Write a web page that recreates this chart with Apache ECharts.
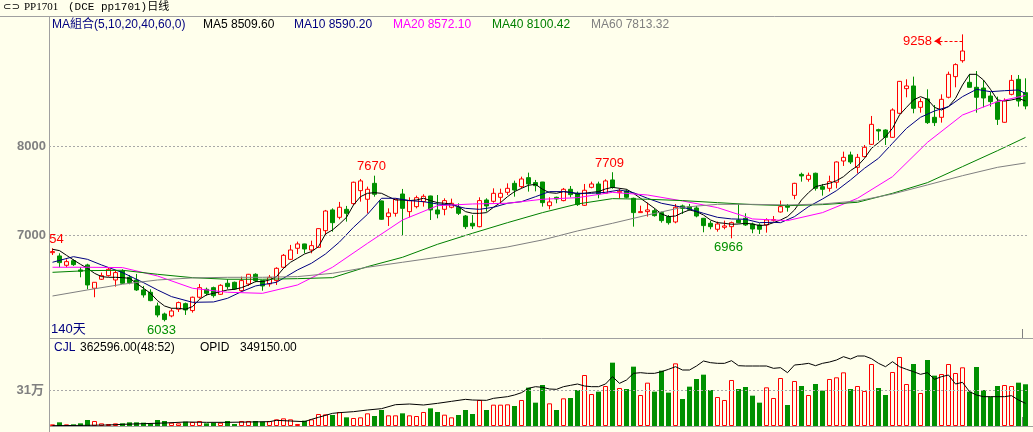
<!DOCTYPE html>
<html>
<head>
<meta charset="utf-8">
<title>PP1701 日线</title>
<script src="https://cdn.jsdelivr.net/npm/echarts@6/dist/echarts.min.js"></script>
<style>
    html, body { margin: 0; padding: 0; background: #FFFFEC; }
    #main { width: 1033px; height: 432px; }
</style>
</head>
<body>
<div id="main"></div>
<script>
// daily bars, oldest first (140 days)
var opens = [
    6805, 6768, 6663, 6715, 6611, 6667, 6405, 6506, 6547, 6498,
    6599, 6528, 6498, 6386, 6360, 6206, 6116, 6094, 6169, 6232,
    6154, 6304, 6393, 6412, 6337, 6461, 6472, 6378, 6453, 6562,
    6491, 6453, 6491, 6641, 6730, 6854, 6903, 6835, 6865, 7052,
    7285, 7202, 7292, 7356, 7502, 7405, 7584, 7386, 7210, 7247,
    7464, 7266, 7322, 7378, 7442, 7285, 7292, 7315, 7315, 7217,
    7135, 7097, 7397, 7382, 7427, 7483, 7584, 7547, 7648, 7592,
    7599, 7333, 7427, 7390, 7517, 7472, 7337, 7539, 7577, 7472,
    7622, 7479, 7498, 7416, 7255, 7266, 7277, 7255, 7210, 7150,
    7330, 7322, 7307, 7191, 7135, 7068, 7090, 7097, 7172, 7191,
    7127, 7116, 7116, 7169, 7262, 7333, 7449, 7685, 7629, 7697,
    7547, 7528, 7596, 7835, 7903, 7764, 7884, 8022, 8187, 8183,
    8101, 8371, 8648, 8678, 8438, 8532, 8326, 8326, 8551, 8783,
    8962, 8719, 8663, 8655, 8565, 8498, 8270, 8584, 8753, 8603
];
var closes = [
    6817, 6693, 6704, 6670, 6596, 6442, 6472, 6547, 6618, 6581,
    6461, 6468, 6386, 6330, 6266, 6105, 6053, 6150, 6244, 6161,
    6304, 6412, 6348, 6322, 6438, 6423, 6397, 6491, 6562, 6491,
    6431, 6528, 6629, 6775, 6835, 6903, 6846, 6884, 7075, 7273,
    7142, 7315, 7247, 7596, 7611, 7517, 7461, 7180, 7251, 7405,
    7303, 7390, 7423, 7438, 7285, 7240, 7390, 7360, 7247, 7097,
    7105, 7390, 7330, 7472, 7472, 7528, 7509, 7633, 7577, 7558,
    7367, 7375, 7408, 7517, 7457, 7345, 7506, 7577, 7464, 7611,
    7539, 7494, 7427, 7255, 7266, 7285, 7221, 7165, 7142, 7315,
    7303, 7292, 7217, 7109, 7097, 7127, 7105, 7142, 7142, 7116,
    7071, 7068, 7172, 7176, 7322, 7315, 7584, 7667, 7674, 7528,
    7517, 7603, 7824, 7876, 7824, 7876, 7989, 8247, 8172, 8101,
    8408, 8730, 8678, 8427, 8502, 8266, 8266, 8528, 8809, 8918,
    9071, 8663, 8551, 8543, 8502, 8303, 8513, 8741, 8509, 8453
];
var lows = [
    6779, 6641, 6641, 6656, 6528, 6393, 6304, 6498, 6536, 6423,
    6453, 6450, 6375, 6300, 6259, 6079, 6033, 6079, 6139, 6105,
    6131, 6289, 6322, 6300, 6330, 6393, 6386, 6367, 6431, 6472,
    6378, 6423, 6442, 6629, 6723, 6790, 6798, 6798, 6860, 7004,
    7041, 7180, 7154, 7341, 7378, 7247, 7434, 7175, 7105, 7210,
    7000, 7202, 7303, 7322, 7172, 7191, 7225, 7303, 7228, 7071,
    7071, 7090, 7266, 7367, 7360, 7453, 7434, 7528, 7491, 7494,
    7322, 7292, 7360, 7382, 7427, 7330, 7330, 7528, 7416, 7468,
    7524, 7416, 7416, 7097, 7252, 7210, 7210, 7142, 7120, 7135,
    7240, 7277, 7202, 7034, 7068, 7041, 7068, 6966, 7135, 7105,
    7023, 7015, 7030, 7154, 7255, 7266, 7405, 7603, 7603, 7502,
    7446, 7491, 7528, 7779, 7801, 7697, 7876, 8015, 8064, 8015,
    8095, 8363, 8551, 8371, 8378, 8251, 8228, 8266, 8539, 8663,
    8940, 8660, 8378, 8438, 8446, 8240, 8266, 8573, 8446, 8416
];
var highs = [
    6854, 6798, 6730, 6730, 6641, 6680, 6475, 6581, 6641, 6603,
    6618, 6554, 6566, 6431, 6393, 6244, 6131, 6180, 6255, 6244,
    6311, 6453, 6412, 6423, 6450, 6506, 6480, 6536, 6566, 6573,
    6498, 6554, 6641, 6790, 6892, 6929, 6905, 6940, 7078, 7285,
    7303, 7375, 7330, 7603, 7633, 7547, 7670, 7390, 7303, 7412,
    7521, 7427, 7446, 7461, 7445, 7453, 7416, 7412, 7360, 7228,
    7228, 7427, 7416, 7528, 7524, 7584, 7614, 7659, 7704, 7622,
    7600, 7427, 7434, 7532, 7554, 7491, 7577, 7603, 7603, 7629,
    7709, 7528, 7517, 7423, 7333, 7367, 7303, 7266, 7228, 7352,
    7345, 7352, 7330, 7195, 7161, 7154, 7165, 7154, 7352, 7247,
    7142, 7135, 7191, 7217, 7390, 7352, 7590, 7704, 7704, 7704,
    7577, 7670, 7831, 7940, 7940, 7914, 8015, 8341, 8198, 8191,
    8427, 8734, 8753, 8783, 8539, 8640, 8464, 8584, 8839, 8933,
    9258, 8813, 8846, 8745, 8610, 8558, 8539, 8801, 8801, 8764
];
var volumes = [
    14500, 31900, 14500, 14500, 23200, 52100, 43500, 23200, 17400, 23200,
    23200, 31900, 31900, 29000, 23200, 52100, 43500, 29000, 23200, 37700,
    34800, 43500, 23200, 29000, 29000, 43500, 17400, 43500, 43500, 43500,
    37700, 43500, 57900, 66600, 57900, 17400, 46400, 57900, 104300, 101400,
    95600, 121700, 75300, 69500, 75300, 110100, 86900, 139100, 92700, 92700,
    110100, 92700, 86900, 121700, 153500, 121700, 98500, 75300, 95600, 139100,
    104300, 226000, 139100, 185400, 185400, 188300, 173800, 226000, 333200, 202800,
    356300, 197000, 139100, 240500, 243400, 312900, 443200, 278100, 298400, 347600,
    550400, 330300, 321600, 515700, 269400, 376600, 298400, 480900, 289700, 544600,
    234700, 341900, 408500, 446100, 312900, 252000, 226000, 399800, 321600, 339000,
    263600, 202800, 336100, 243400, 417200, 182500, 391100, 347600, 269400, 365000,
    307100, 408500, 423000, 466400, 321600, 347600, 304200, 538800, 330300, 269400,
    469300, 599700, 365000, 538800, 286800, 573600, 437500, 451900, 538800, 460600,
    509900, 298400, 512800, 312900, 254900, 347600, 356300, 347600, 376600, 362596
];

// moving averages: ma5 per day, the rest as [day, value]
var ma5 = [
    6843, 6828, 6775, 6723, 6674, 6629, 6573, 6536, 6528, 6528,
    6524, 6517, 6461, 6405, 6348, 6266, 6206, 6180, 6180, 6169,
    6199, 6281, 6330, 6348, 6367, 6386, 6393, 6412, 6442, 6480,
    6480, 6498, 6536, 6629, 6697, 6742, 6790, 6817, 6873, 7015,
    7060, 7127, 7202, 7341, 7434, 7472, 7479, 7472, 7434, 7397,
    7397, 7390, 7397, 7416, 7390, 7367, 7360, 7352, 7322, 7266,
    7247, 7247, 7255, 7315, 7367, 7434, 7491, 7528, 7562, 7573,
    7517, 7479, 7472, 7491, 7483, 7464, 7472, 7483, 7491, 7521,
    7539, 7528, 7517, 7472, 7416, 7360, 7303, 7240, 7210, 7217,
    7255, 7285, 7266, 7228, 7172, 7142, 7135, 7124, 7127, 7135,
    7127, 7109, 7116, 7142, 7172, 7210, 7285, 7397, 7479, 7547,
    7566, 7584, 7614, 7659, 7727, 7779, 7865, 7978, 8041, 8109,
    8202, 8352, 8438, 8521, 8558, 8528, 8438, 8408, 8446, 8539,
    8689, 8809, 8809, 8745, 8640, 8521, 8509, 8521, 8539, 8509
];
var ma10 = [
    [0, 6697], [3, 6760], [5, 6730], [7, 6667], [10, 6581], [13, 6468], [15, 6386], [17, 6311],
    [20, 6247], [23, 6251], [25, 6292], [27, 6367], [29, 6431], [32, 6472], [35, 6611], [37, 6686],
    [39, 6790], [41, 6925], [43, 7090], [45, 7236], [47, 7416], [49, 7416], [51, 7390], [53, 7378],
    [55, 7352], [57, 7341], [59, 7303], [61, 7292], [63, 7315], [65, 7360], [67, 7378], [69, 7434],
    [71, 7491], [73, 7491], [75, 7472], [77, 7472], [79, 7483], [81, 7509], [83, 7479], [85, 7416],
    [87, 7360], [89, 7330], [91, 7296], [93, 7247], [95, 7202], [97, 7184], [99, 7180], [101, 7142],
    [103, 7146], [104, 7142], [106, 7210], [108, 7322], [110, 7408], [112, 7502], [114, 7622], [116, 7753],
    [118, 7865], [120, 8034], [122, 8202], [124, 8326], [126, 8397], [128, 8446], [130, 8558], [132, 8640],
    [134, 8614], [136, 8625], [138, 8633], [139, 8592]
];
var ma20 = [
    [0, 6641], [5, 6641], [10, 6637], [15, 6543], [20, 6405], [25, 6360], [30, 6348], [35, 6442],
    [40, 6641], [45, 6910], [50, 7172], [55, 7333], [60, 7352], [65, 7360], [70, 7405], [75, 7423],
    [80, 7483], [85, 7453], [90, 7386], [95, 7311], [100, 7184], [105, 7165], [110, 7255], [115, 7416],
    [120, 7659], [125, 8045], [130, 8352], [135, 8502], [139, 8572]
];
var ma40 = [
    [0, 6584], [5, 6603], [10, 6607], [15, 6562], [20, 6524], [25, 6506], [30, 6506], [35, 6513],
    [40, 6524], [45, 6648], [50, 6753], [55, 6899], [60, 7023], [65, 7142], [70, 7255], [75, 7352],
    [80, 7412], [85, 7405], [90, 7390], [95, 7367], [100, 7345], [105, 7333], [110, 7345], [115, 7371],
    [120, 7472], [125, 7592], [130, 7772], [135, 7951], [139, 8100]
];
var ma60 = [
    [0, 6318], [5, 6386], [10, 6450], [15, 6498], [20, 6521], [25, 6528], [30, 6528], [35, 6536],
    [40, 6573], [45, 6641], [50, 6697], [55, 6753], [60, 6809], [65, 6869], [70, 6948], [75, 7049],
    [80, 7135], [85, 7228], [90, 7315], [95, 7348], [100, 7348], [105, 7341], [110, 7352], [115, 7386],
    [120, 7464], [125, 7566], [130, 7670], [135, 7764], [139, 7813]
];
// open interest (OPID), [day, value]
var openInterest = [
    [0, 5100], [5, 10300], [8, 15400], [10, 25700], [13, 36000], [16, 46200], [19, 61600], [22, 56500],
    [25, 56500], [28, 61600], [31, 66800], [32, 87300], [34, 77000], [36, 66800], [37, 102700], [38, 133500],
    [40, 195100], [41, 205400], [43, 220800], [45, 246500], [47, 267000], [49, 328600], [51, 338900], [53, 323500],
    [55, 349200], [57, 380000], [59, 410800], [60, 400500], [62, 395400], [63, 426200], [65, 451900], [66, 477600],
    [67, 513500], [68, 580300], [69, 605900], [70, 595700], [71, 570000], [72, 564900], [73, 605900], [74, 626500],
    [75, 647000], [76, 616200], [77, 605900], [78, 605900], [79, 647000], [80, 760000], [81, 657300], [82, 708600],
    [83, 811300], [84, 821600], [85, 811300], [86, 811300], [87, 837000], [88, 873000], [89, 914000], [90, 862700],
    [91, 862700], [92, 924300], [93, 1001300], [94, 975700], [95, 965400], [96, 965400], [97, 1006500], [98, 929400],
    [99, 924300], [100, 924300], [101, 924300], [102, 924300], [103, 888400], [104, 898600], [105, 821600], [106, 939700],
    [107, 950000], [108, 965400], [109, 929400], [110, 965400], [111, 985900], [112, 1016700], [113, 1068100], [114, 1032100],
    [115, 1078400], [116, 1078400], [117, 1037300], [118, 965400], [119, 914000], [120, 991100], [121, 914000], [122, 873000],
    [123, 837000], [124, 795900], [125, 821600], [126, 718900], [127, 760000], [128, 785700], [129, 647000], [130, 672700],
    [131, 528900], [132, 477600], [133, 451900], [134, 451900], [135, 451900], [136, 451900], [137, 467300], [138, 400500],
    [139, 349150]
];
var priceTicks = [7000, 8000];
var volumeTicks = [310000];

var BG = '#FFFFEC';
var RED = '#FF0000';
var GREEN = '#009000';
var FONT = "'Liberation Sans', 'Noto Sans CJK SC', sans-serif";

var days = opens.map(function (o, i) { return i + 1; });
var candles = opens.map(function (o, i) {
    return [o, closes[i], lows[i], highs[i]];
});
var volumeBars = volumes.map(function (v, i) {
    var up = closes[i] >= opens[i];
    return {
        value: v,
        itemStyle: up ? { color: BG, borderColor: RED, borderWidth: 1 }
                      : { color: GREEN, borderColor: GREEN, borderWidth: 0 }
    };
});

function dashed(value) {
    return { yAxis: value, lineStyle: { color: '#A8A8A8', type: [2, 2], width: 1 } };
}

function tag(day, price, text, color, pos, dx) {
    return {
        coord: [day, price],
        value: price,
        label: {
            show: true, formatter: text, position: pos, distance: 2,
            offset: [dx, 0], color: color, fontSize: 13, fontFamily: FONT
        }
    };
}

function maLine(name, data, color) {
    return {
        name: name, type: 'line', data: data,
        xAxisIndex: 0, yAxisIndex: 0,
        symbol: 'none', connectNulls: true, z: 3,
        lineStyle: { color: color, width: 1 }
    };
}

function txt(x, y, text, color, font) {
    return {
        type: 'text', x: x, y: y, silent: true,
        style: { text: text, fill: color, font: font || ('12px ' + FONT), textVerticalAlign: 'middle' }
    };
}

function hline(x1, y, x2, color) {
    return { type: 'line', silent: true, shape: { x1: x1, y1: y, x2: x2, y2: y }, style: { stroke: color || '#A0A0A0', lineWidth: 1 } };
}

function vline(x, y1, y2, color) {
    return { type: 'line', silent: true, shape: { x1: x, y1: y1, x2: x, y2: y2 }, style: { stroke: color || '#A0A0A0', lineWidth: 1 } };
}

var chart = echarts.init(document.getElementById('main'));

option = {
    backgroundColor: BG,
    animation: false,
    grid: [
        { left: 49, width: 980, top: 30, height: 308 },
        { left: 49, width: 980, top: 340, height: 86 }
    ],
    xAxis: [
        { type: 'category', gridIndex: 0, data: days, boundaryGap: true,
          axisLine: { show: false }, axisTick: { show: false }, axisLabel: { show: false }, splitLine: { show: false } },
        { type: 'category', gridIndex: 1, data: days, boundaryGap: true,
          axisLine: { show: false }, axisTick: { show: false }, axisLabel: { show: false }, splitLine: { show: false } }
    ],
    yAxis: [
        { type: 'value', gridIndex: 0, min: 5846, max: 9307,
          axisLine: { show: false }, axisTick: { show: false }, splitLine: { show: false },
          axisLabel: { customValues: priceTicks, margin: 3, color: '#808080', fontWeight: 'bold', fontSize: 13, fontFamily: FONT,
                       formatter: function (v) { return String(v); } } },
        { type: 'value', gridIndex: 1, min: 0, max: 747400,
          axisLine: { show: false }, axisTick: { show: false }, splitLine: { show: false },
          axisLabel: { customValues: volumeTicks, margin: 5, color: '#808080', fontWeight: 'bold', fontSize: 13, fontFamily: FONT,
                       formatter: function (v) { return Math.round(v / 10000) + '万'; } } },
        { type: 'value', gridIndex: 1, min: 0, max: 1325000, show: false }
    ],
    series: [
        {
            name: 'PP1701', type: 'candlestick', data: candles,
            xAxisIndex: 0, yAxisIndex: 0, barWidth: 5, z: 2,
            itemStyle: { color: BG, color0: GREEN, borderColor: RED, borderColor0: GREEN, borderWidth: 1 },
            markLine: {
                silent: true, symbol: 'none', label: { show: false },
                data: priceTicks.map(dashed).concat([
                    [
                        { coord: [126, 9183], symbol: 'arrow', symbolSize: 7 },
                        { coord: [130, 9183], symbol: 'none' }
                    ]
                ]),
                lineStyle: { color: RED, type: [3, 2], width: 1 }
            },
            markPoint: {
                silent: true, symbol: 'rect', symbolSize: 1,
                itemStyle: { color: 'rgba(0,0,0,0)' },
                data: [
                    tag(0, 6854, '54', RED, 'top', 4),
                    tag(16, 6033, '6033', GREEN, 'bottom', -3),
                    tag(46, 7670, '7670', RED, 'top', -3),
                    tag(80, 7709, '7709', RED, 'top', -3),
                    tag(97, 6966, '6966', GREEN, 'bottom', -3),
                    tag(126, 9183, '9258', RED, 'left', 0)
                ]
            }
        },
        maLine('MA5', ma5, '#000000'),
        maLine('MA10', ma10, '#000080'),
        maLine('MA20', ma20, '#FF00FF'),
        maLine('MA40', ma40, '#008000'),
        maLine('MA60', ma60, '#808080'),
        {
            name: 'CJL', type: 'bar', data: volumeBars,
            xAxisIndex: 1, yAxisIndex: 1, barWidth: 5,
            markLine: {
                silent: true, symbol: 'none', label: { show: false },
                data: volumeTicks.map(dashed)
            }
        },
        {
            name: 'OPID', type: 'line', data: openInterest,
            xAxisIndex: 1, yAxisIndex: 2, symbol: 'none', z: 3,
            lineStyle: { color: '#000000', width: 1 }
        }
    ],
    graphic: [
        hline(0, 16.5, 1033),
        vline(49.5, 16.5, 432),
        hline(49.5, 338.5, 1033),
        hline(49.5, 426.5, 1033),
        vline(1022.5, 329, 338, '#808080'),
        vline(1022.5, 417, 426, '#808080'),
        txt(3, 7, '⊂⊃', '#000000', '10px DejaVu Sans'),
        txt(24, 7, 'PP1701', '#000000', "11px 'Liberation Serif'"),
        txt(68, 7, '(DCE pp1701)日线', '#000000', "11px 'Liberation Mono', 'Noto Sans CJK SC'"),
        txt(52, 25, 'MA組合(5,10,20,40,60,0)', '#000080'),
        txt(203, 25, 'MA5 8509.60', '#000000'),
        txt(294, 25, 'MA10 8590.20', '#000080'),
        txt(393, 25, 'MA20 8572.10', '#FF00FF'),
        txt(492, 25, 'MA40 8100.42', '#008000'),
        txt(591, 25, 'MA60 7813.32', '#808080'),
        txt(51, 329, '140天', '#000080', '13px ' + FONT),
        txt(54, 348, 'CJL', '#000080'),
        txt(80, 348, '362596.00(48:52)', '#000000'),
        txt(200, 348, 'OPID', '#000000'),
        txt(240, 348, '349150.00', '#000000')
    ]
};
chart.setOption(option);
</script>
</body>
</html>
